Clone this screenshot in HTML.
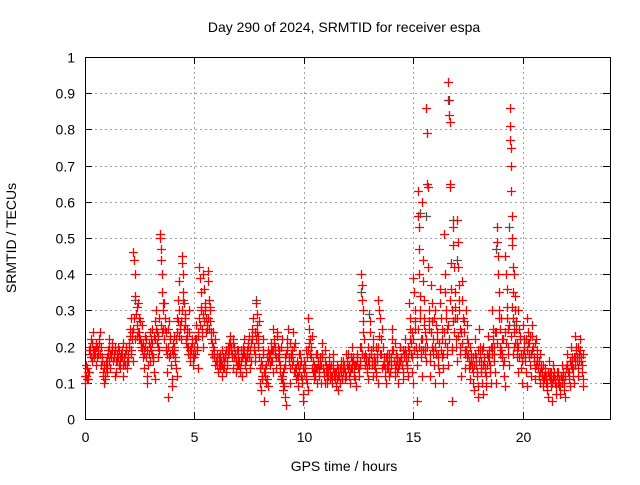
<!DOCTYPE html>
<html><head><meta charset="utf-8"><style>
body{margin:0;background:#fff}
svg text{font-family:"Liberation Sans",sans-serif;font-size:14px;fill:#000}
</style></head><body>
<svg id="chart" width="640" height="480" xmlns="http://www.w3.org/2000/svg">
<g id="grid"></g>
<g id="axes"></g>
<g id="gray"></g>
<g id="red"></g>
<text x="344" y="32" text-anchor="middle">Day 290 of 2024, SRMTID for receiver espa</text>
<text x="344" y="471" text-anchor="middle">GPS time / hours</text>
<text x="16" y="238" text-anchor="middle" transform="rotate(-90 16 238)">SRMTID / TECUs</text>
</svg>
<script>
const xTicks=[0,5,10,15,20];
const yTicks=[0,0.1,0.2,0.3,0.4,0.5,0.6,0.7,0.8,0.9,1];
const yTickLabels=["0","0.1","0.2","0.3","0.4","0.5","0.6","0.7","0.8","0.9","1"];
const binHours=[0,0.2,0.4,0.6,0.8,1,1.2,1.4,1.6,1.8,2,2.2,2.4,2.6,2.8,3,3.2,3.4,3.6,3.8,4,4.2,4.4,4.6,4.8,5,5.2,5.4,5.6,5.8,6,6.2,6.4,6.6,6.8,7,7.2,7.4,7.6,7.8,8,8.2,8.4,8.6,8.8,9,9.2,9.4,9.6,9.8,10,10.2,10.4,10.6,10.8,11,11.2,11.4,11.6,11.8,12,12.2,12.4,12.6,12.8,13,13.2,13.4,13.6,13.8,14,14.2,14.4,14.6,14.8,15,15.2,15.4,15.6,15.8,16,16.2,16.4,16.6,16.8,17,17.2,17.4,17.6,17.8,18,18.2,18.4,18.6,18.8,19,19.2,19.4,19.6,19.8,20,20.2,20.4,20.6,20.8,21,21.2,21.4,21.6,21.8,22,22.2,22.4,22.6];
const binValues=[
[0.10,0.12,0.14,0.11,0.13],[0.18,0.20,0.22,0.16,0.24,0.19],[0.17,0.19,0.21,0.15,0.20,0.18],[0.18,0.22,0.24,0.15,0.20,0.17],[0.12,0.14,0.10,0.11,0.16,0.13],
[0.15,0.18,0.20,0.22,0.14,0.17],[0.19,0.21,0.16,0.18,0.12,0.20],[0.13,0.16,0.18,0.20,0.15,0.17],[0.14,0.17,0.19,0.21,0.12,0.16],[0.15,0.18,0.20,0.14,0.16,0.17],
[0.20,0.25,0.28,0.18,0.22,0.16],[0.46,0.44,0.40,0.34,0.29,0.26,0.23],[0.32,0.28,0.24,0.22,0.20,0.26],[0.20,0.17,0.14,0.19,0.23,0.22],[0.10,0.12,0.15,0.18,0.24,0.20],
[0.22,0.25,0.18,0.16,0.13,0.11],[0.27,0.30,0.24,0.20,0.17,0.19],[0.51,0.50,0.47,0.44,0.40,0.35,0.30,0.25],[0.32,0.28,0.24,0.20,0.13,0.06],[0.25,0.27,0.22,0.18,0.15,0.11,0.09],
[0.21,0.19,0.23,0.17,0.14,0.12],[0.28,0.33,0.38,0.30,0.25,0.22],[0.45,0.43,0.40,0.35,0.32,0.29,0.26],[0.22,0.25,0.20,0.18,0.30,0.19],[0.16,0.20,0.22,0.18,0.15,0.17],
[0.18,0.22,0.26,0.20,0.14,0.23],[0.42,0.39,0.35,0.30,0.25,0.20],[0.40,0.36,0.32,0.28,0.24,0.26],[0.41,0.38,0.33,0.30,0.27,0.22,0.18],[0.21,0.24,0.19,0.17,0.15,0.16],
[0.18,0.15,0.13,0.17,0.16,0.14],[0.15,0.12,0.19,0.14,0.16,0.18],[0.17,0.13,0.15,0.18,0.20,0.21],[0.23,0.21,0.19,0.17,0.14,0.22],[0.20,0.18,0.16,0.13,0.15,0.19],
[0.17,0.15,0.13,0.16,0.19,0.12],[0.20,0.22,0.18,0.15,0.13,0.17],[0.19,0.21,0.23,0.17,0.14,0.16],[0.22,0.25,0.28,0.20,0.18,0.16],[0.32,0.29,0.26,0.23,0.20,0.17,0.14],
[0.10,0.08,0.12,0.15,0.18,0.22,0.05],[0.14,0.12,0.10,0.17,0.19,0.09],[0.18,0.15,0.21,0.19,0.16,0.13],[0.25,0.22,0.20,0.17,0.14,0.24],[0.20,0.18,0.16,0.13,0.11,0.22],
[0.12,0.10,0.08,0.14,0.06,0.17,0.04],[0.20,0.22,0.25,0.17,0.14,0.10],[0.18,0.15,0.19,0.24,0.13,0.21],[0.14,0.11,0.16,0.12,0.09,0.18],[0.18,0.15,0.12,0.10,0.07,0.05],
[0.16,0.14,0.12,0.19,0.10,0.08],[0.28,0.25,0.22,0.20,0.17,0.14],[0.16,0.13,0.11,0.14,0.18,0.10],[0.18,0.15,0.12,0.14,0.17,0.10],[0.21,0.18,0.14,0.12,0.16,0.10],
[0.15,0.12,0.10,0.14,0.17,0.11],[0.14,0.12,0.10,0.16,0.18,0.13],[0.13,0.11,0.09,0.15,0.12,0.08],[0.12,0.10,0.14,0.16,0.11,0.13],[0.16,0.14,0.11,0.18,0.12,0.15],
[0.18,0.15,0.12,0.10,0.14,0.16],[0.20,0.17,0.15,0.13,0.11,0.09],[0.18,0.16,0.14,0.12,0.20,0.15],[0.40,0.37,0.33,0.30,0.27,0.22,0.15],[0.18,0.16,0.13,0.20,0.11,0.15],
[0.27,0.24,0.18,0.15,0.12,0.20],[0.17,0.14,0.12,0.20,0.16,0.10],[0.33,0.30,0.28,0.22,0.18,0.14],[0.20,0.17,0.15,0.12,0.10,0.18],[0.16,0.14,0.12,0.18,0.13,0.15],
[0.25,0.22,0.19,0.16,0.14,0.12],[0.18,0.16,0.13,0.10,0.15,0.20],[0.20,0.17,0.15,0.13,0.11,0.18],[0.22,0.19,0.16,0.14,0.12,0.17],[0.32,0.28,0.25,0.21,0.17,0.13,0.10],
[0.39,0.35,0.30,0.25,0.20,0.15,0.05],[0.63,0.56,0.53,0.47,0.40,0.34,0.28,0.22,0.17,0.12],[0.60,0.44,0.38,0.33,0.28,0.24,0.20,0.16],[0.86,0.79,0.65,0.64,0.42,0.30,0.25,0.18,0.12],[0.37,0.32,0.27,0.22,0.19,0.15,0.10],
[0.30,0.26,0.22,0.18,0.15,0.13],[0.36,0.32,0.28,0.22,0.17,0.14,0.10],[0.51,0.40,0.35,0.30,0.25,0.20,0.15],[0.93,0.88,0.84,0.82,0.65,0.64,0.43,0.36,0.30,0.20,0.05],[0.53,0.48,0.42,0.35,0.28,0.22,0.16],
[0.55,0.49,0.42,0.37,0.30,0.25,0.18,0.12],[0.38,0.33,0.28,0.24,0.19,0.14],[0.30,0.26,0.22,0.18,0.14,0.11],[0.20,0.18,0.15,0.13,0.10,0.08],[0.22,0.18,0.15,0.12,0.09,0.06],
[0.25,0.20,0.16,0.13,0.10,0.07],[0.20,0.17,0.14,0.12,0.09,0.15],[0.23,0.19,0.16,0.13,0.10,0.18],[0.30,0.25,0.20,0.16,0.13,0.10],[0.53,0.49,0.45,0.40,0.35,0.30,0.25,0.18],
[0.28,0.22,0.18,0.15,0.12,0.09],[0.45,0.40,0.36,0.31,0.25,0.20,0.15],[0.86,0.81,0.77,0.75,0.70,0.63,0.56,0.50,0.48,0.42,0.35,0.28,0.20],[0.40,0.34,0.30,0.25,0.21,0.17,0.13],[0.30,0.25,0.22,0.18,0.14,0.10],
[0.26,0.22,0.19,0.16,0.13,0.09],[0.28,0.24,0.21,0.18,0.15,0.12],[0.26,0.23,0.20,0.17,0.14,0.11],[0.22,0.19,0.16,0.14,0.12,0.10],[0.18,0.15,0.13,0.11,0.09,0.12],
[0.14,0.12,0.10,0.08,0.13,0.06],[0.16,0.13,0.11,0.09,0.05,0.12],[0.15,0.13,0.11,0.09,0.07,0.12],[0.13,0.11,0.09,0.07,0.12,0.10],[0.15,0.12,0.10,0.08,0.06,0.14],
[0.18,0.15,0.13,0.11,0.09,0.16],[0.20,0.17,0.14,0.12,0.10,0.15],[0.23,0.20,0.17,0.14,0.12,0.18],[0.22,0.19,0.16,0.13,0.11,0.09]];
const binExtra=[
[0.12,0.15,0.11,0.13],[0.19,0.17,0.21,0.18],[0.19,0.18,0.20,0.17],[0.19,0.21,0.18,0.16],[0.13,0.15,0.12,0.14],
[0.17,0.19,0.16,0.18],[0.18,0.20,0.17,0.19],[0.16,0.18,0.17,0.19],[0.16,0.18,0.17,0.15],[0.17,0.19,0.16,0.18],
[0.21,0.23,0.19,0.24],[0.25,0.28,0.22,0.31],[0.24,0.22,0.27,0.21],[0.19,0.21,0.18,0.20],[0.17,0.19,0.21,0.16],
[0.19,0.21,0.17,0.23],[0.22,0.25,0.21,0.23],[0.28,0.26,0.24,0.32],[0.22,0.25,0.19,0.18],[0.20,0.17,0.23,0.19],
[0.18,0.20,0.16,0.22],[0.24,0.27,0.23,0.26],[0.27,0.30,0.25,0.28],[0.21,0.23,0.20,0.24],[0.18,0.19,0.21,0.17],
[0.20,0.22,0.19,0.24],[0.28,0.26,0.31,0.23],[0.29,0.27,0.31,0.25],[0.28,0.25,0.31,0.24],[0.18,0.20,0.17,0.22],
[0.16,0.17,0.15,0.18],[0.16,0.15,0.17,0.14],[0.17,0.19,0.16,0.18],[0.19,0.20,0.18,0.21],[0.17,0.18,0.16,0.19],
[0.15,0.16,0.14,0.17],[0.18,0.19,0.17,0.16],[0.18,0.20,0.17,0.19],[0.21,0.23,0.19,0.24],[0.22,0.24,0.21,0.27],
[0.14,0.16,0.11,0.19],[0.13,0.15,0.11,0.16],[0.17,0.18,0.16,0.19],[0.19,0.21,0.18,0.23],[0.17,0.19,0.15,0.20],
[0.11,0.13,0.09,0.15],[0.18,0.19,0.16,0.21],[0.17,0.18,0.16,0.20],[0.13,0.14,0.12,0.15],[0.13,0.16,0.11,0.14],
[0.13,0.15,0.11,0.17],[0.19,0.21,0.18,0.23],[0.13,0.15,0.12,0.14],[0.14,0.16,0.13,0.15],[0.15,0.17,0.13,0.19],
[0.13,0.14,0.12,0.15],[0.13,0.15,0.12,0.14],[0.12,0.13,0.11,0.14],[0.12,0.14,0.13,0.11],[0.14,0.15,0.13,0.16],
[0.14,0.15,0.13,0.17],[0.14,0.16,0.12,0.15],[0.15,0.17,0.14,0.16],[0.20,0.18,0.24,0.17],[0.15,0.17,0.14,0.16],
[0.17,0.19,0.16,0.22],[0.15,0.16,0.13,0.18],[0.20,0.23,0.18,0.25],[0.15,0.16,0.14,0.17],[0.14,0.15,0.16,0.13],
[0.17,0.19,0.16,0.21],[0.15,0.17,0.14,0.16],[0.16,0.17,0.15,0.19],[0.17,0.18,0.15,0.20],[0.19,0.22,0.18,0.24],
[0.22,0.19,0.27,0.18],[0.25,0.20,0.30,0.19],[0.22,0.19,0.26,0.18],[0.22,0.20,0.27,0.16],[0.24,0.20,0.18,0.28],
[0.20,0.18,0.24,0.17],[0.21,0.19,0.25,0.18],[0.24,0.21,0.28,0.18],[0.26,0.22,0.33,0.19],[0.27,0.24,0.31,0.20],
[0.28,0.23,0.33,0.20],[0.24,0.21,0.27,0.18],[0.19,0.17,0.21,0.16],[0.15,0.16,0.14,0.17],[0.15,0.17,0.13,0.19],
[0.16,0.18,0.14,0.19],[0.15,0.16,0.13,0.18],[0.17,0.18,0.15,0.20],[0.20,0.22,0.18,0.24],[0.24,0.21,0.28,0.20],
[0.19,0.17,0.22,0.16],[0.24,0.21,0.28,0.18],[0.26,0.23,0.31,0.18],[0.24,0.21,0.27,0.19],[0.20,0.17,0.23,0.16],
[0.18,0.20,0.17,0.22],[0.19,0.21,0.17,0.23],[0.18,0.19,0.16,0.21],[0.15,0.17,0.14,0.16],[0.13,0.14,0.12,0.15],
[0.11,0.12,0.10,0.13],[0.12,0.11,0.13,0.10],[0.11,0.12,0.10,0.13],[0.10,0.11,0.09,0.12],[0.11,0.13,0.10,0.12],
[0.14,0.15,0.13,0.16],[0.15,0.16,0.14,0.17],[0.17,0.19,0.16,0.20],[0.16,0.17,0.15,0.18]];
const grayHours=[2.3,4.5,5.5,7.8,12.6,13.0,15.3,15.6,16.6,16.8,17.0,18.8,19.4,19.6,22.6];
const grayValues=[0.33,0.33,0.30,0.33,0.35,0.29,0.57,0.56,0.88,0.55,0.44,0.47,0.53,0.26,0.18];

const NS="http://www.w3.org/2000/svg";
const L=85,R=610,T=57,B=419,XMAX=24;
const sx=h=>L+h*(R-L)/XMAX, sy=v=>B-v*(B-T);
function mk(tag,attrs,parent){const e=document.createElementNS(NS,tag);for(const k in attrs)e.setAttribute(k,attrs[k]);parent.appendChild(e);return e;}
const grid=document.getElementById('grid'),axes=document.getElementById('axes');
yTicks.forEach((v,i)=>{
  const y=Math.round(sy(v))+0.5;
  if(v>0&&v<1){const g=mk('line',{x1:L,x2:R,y1:y,y2:y,stroke:'#a0a0a0','stroke-dasharray':'2,3'},grid);
  
  }
  const t1=mk('line',{x1:L,x2:L+7,y1:y,y2:y,stroke:'#000'},axes);
  
  
  const t2=mk('line',{x1:R-7,x2:R,y1:y,y2:y,stroke:'#000'},axes);
  
  
  const tx=mk('text',{x:L-10,y:y+5,'text-anchor':'end'},axes);tx.textContent=yTickLabels[i];
  
  
});
xTicks.forEach(h=>{
  const x=Math.round(sx(h))+0.5;
  if(h>0){const g=mk('line',{x1:x,x2:x,y1:T,y2:B,stroke:'#a0a0a0','stroke-dasharray':'2,3'},grid);
  
  }
  const t1=mk('line',{x1:x,x2:x,y1:B-7,y2:B,stroke:'#000'},axes);
  
  
  const t2=mk('line',{x1:x,x2:x,y1:T,y2:T+7,stroke:'#000'},axes);
  
  
  const tx=mk('text',{x:x,y:B+23,'text-anchor':'middle'},axes);tx.textContent=String(h);
  
  
});
const frame=mk('rect',{x:L+0.5,y:T+0.5,width:R-L,height:B-T,fill:'none',stroke:'#000'},axes);


function plus(x,y,color,parent,name){
  const p=mk('path',{d:`M${x-4.5},${y}h9M${x},${y-4.5}v9`,stroke:color,'stroke-width':1.3,fill:'none'},parent);
  
  
}
const red=document.getElementById('red'),gray=document.getElementById('gray');
function drawBins(arr,phase){
  binHours.forEach((h,i)=>{const vs=arr[i]||[];vs.forEach((v,j)=>{
    const t=h+0.2*(j+phase)/vs.length;
    plus(Math.round(sx(t))+0.5,Math.round(sy(v))+0.5,'#ff0000',red,'red-point');
  });});
}
grayHours.forEach((h,i)=>plus(Math.round(sx(h))+0.5,Math.round(sy(grayValues[i]))+0.5,'#505050',gray,'gray-point'));
drawBins(binValues,0.5);
drawBins(binExtra,0.1);
</script>
</body></html>
